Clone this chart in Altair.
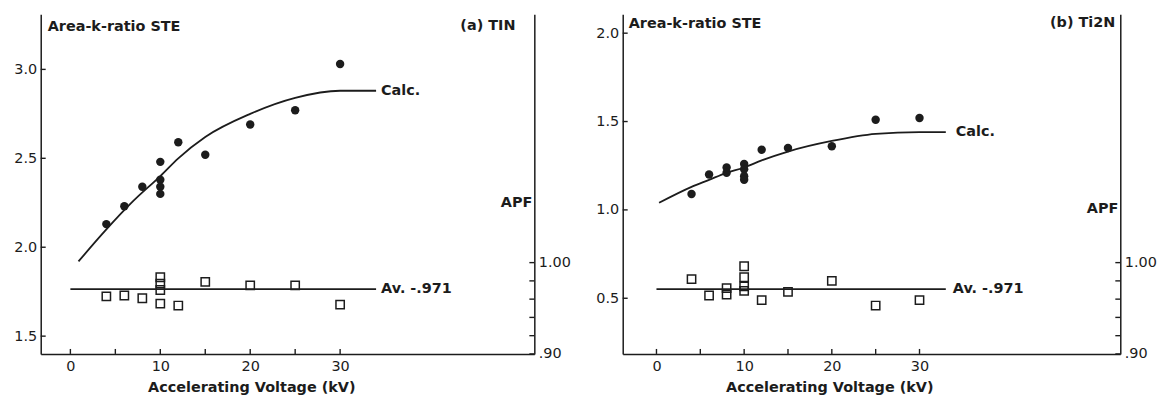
import altair as alt
import pandas as pd

INK = "#1c1c1c"
FONT = "DejaVu Sans"

# ---------------- (a) TiN ----------------
tin_kv = [4, 6, 8, 10, 10, 10, 10, 12, 15, 20, 25, 30]
tin_ratio = [2.13, 2.23, 2.34, 2.48, 2.38, 2.34, 2.30, 2.59, 2.52, 2.69, 2.77, 3.03]
tin_apf_kv = [4, 6, 8, 10, 10, 10, 10, 12, 15, 20, 25, 30]
tin_apf = [0.963, 0.964, 0.961, 0.984, 0.977, 0.970, 0.955, 0.953, 0.979, 0.975, 0.975, 0.954]
tin_calc_kv = [0.9, 4, 7, 10, 12, 15, 20, 25, 30, 34]
tin_calc = [1.92, 2.10, 2.26, 2.40, 2.50, 2.62, 2.75, 2.84, 2.88, 2.88]

# ---------------- (b) Ti2N ----------------
ti2n_kv = [4, 6, 8, 8, 10, 10, 10, 10, 12, 15, 20, 25, 30]
ti2n_ratio = [1.09, 1.20, 1.24, 1.21, 1.26, 1.23, 1.19, 1.17, 1.34, 1.35, 1.36, 1.51, 1.52]
ti2n_apf_kv = [4, 6, 8, 8, 10, 10, 10, 10, 12, 15, 20, 25, 30]
ti2n_apf = [0.982, 0.964, 0.972, 0.965, 0.996, 0.984, 0.974, 0.969, 0.959, 0.968, 0.980, 0.953, 0.959]
ti2n_calc_kv = [0.3, 4, 6, 8, 10, 12, 15, 20, 25, 30, 33]
ti2n_calc = [1.04, 1.13, 1.17, 1.21, 1.24, 1.28, 1.33, 1.39, 1.43, 1.44, 1.44]

# average APF line
apf_average = 0.971

# axis ticks
x_tick_labels = [0, 10, 20, 30]
x_ticks = [0, 5, 10, 15, 20, 25, 30]
apf_ticks = [0.90, 0.92, 0.94, 0.96, 0.98, 1.00]
apf_tick_labels = [0.90, 1.00]
tin_y_ticks = [1.5, 2.0, 2.5, 3.0]
ti2n_y_ticks = [0.5, 1.0, 1.5, 2.0]

H = 342
TICK = 5


def panel(kv, ratio, apf_kv, apf, calc_kv, calc, calc_end, av_end,
          xdom, ydom, yticks, name, w, title_x, calc_dx, av_dx, name_dx,
          head_dx, head_y, apf_y, head_text):
    xs = alt.Scale(domain=xdom, nice=False, zero=False)
    ys = alt.Scale(domain=ydom, nice=False, zero=False)
    ps = alt.Scale(domain=[0.90, 1.272], nice=False, zero=False)

    # one axis definition per scale, shared by every layer on that scale
    x_axis = alt.Axis(values=x_tick_labels, ticks=False, grid=False,
                      labelPadding=6, title="Accelerating Voltage (kV)",
                      titleX=title_x, titleY=38, titleBaseline="alphabetic",
                      titleAlign="center")
    y_axis = alt.Axis(orient="left", values=yticks, format=".1f", ticks=False,
                      grid=False, labelPadding=4, title=None)
    p_axis = alt.Axis(orient="right", values=apf_tick_labels, ticks=False,
                      grid=False, labelPadding=4, title=None,
                      labelExpr="datum.value == 1 ? '1.00' : '.90'")

    def X(f):
        return alt.X(f, type="quantitative", scale=xs, axis=x_axis)

    def Y(f):
        return alt.Y(f, type="quantitative", scale=ys, axis=y_axis)

    def P(f):
        return alt.Y(f, type="quantitative", scale=ps, axis=p_axis)

    pts = pd.DataFrame({"kv": kv, "ratio": ratio})
    sq = pd.DataFrame({"kv": apf_kv, "apf": apf})
    cur = pd.DataFrame({"kv": calc_kv, "ratio": calc})

    points = alt.Chart(pts).mark_circle(size=72, color=INK, opacity=1).encode(
        x=X("kv"), y=Y("ratio"))
    curve = alt.Chart(cur).mark_line(color=INK, strokeWidth=1.8,
                                     interpolate="monotone").encode(
        x=X("kv"), y=Y("ratio"))
    calc_lbl = alt.Chart(pd.DataFrame({"kv": [calc_end[0]], "ratio": [calc_end[1]],
                                       "t": ["Calc."]})).mark_text(
        align="left", baseline="middle", dx=calc_dx, font=FONT,
        fontWeight="bold", fontSize=14.5, color=INK).encode(
        x=X("kv"), y=Y("ratio"), text="t:N")
    xtick = alt.Chart(pd.DataFrame({"kv": x_ticks})).mark_rule(
        color=INK, strokeWidth=1.4).encode(
        x=X("kv"), y=alt.value(H), y2=alt.value(H - TICK))
    ytick = alt.Chart(pd.DataFrame({"ratio": yticks})).mark_rule(
        color=INK, strokeWidth=1.4).encode(
        y=Y("ratio"), x=alt.value(0), x2=alt.value(TICK))
    head = alt.Chart(pd.DataFrame({"t": [head_text]})).mark_text(
        align="left", baseline="middle", font=FONT, fontWeight="bold",
        fontSize=14.5, color=INK).encode(
        text="t:N", x=alt.value(head_dx), y=alt.value(head_y))
    tag = alt.Chart(pd.DataFrame({"t": [name]})).mark_text(
        align="right", baseline="middle", font=FONT, fontWeight="bold",
        fontSize=14.5, color=INK).encode(
        text="t:N", x=alt.value(w - name_dx), y=alt.value(head_y - 1))

    left = alt.layer(points, curve, calc_lbl, xtick, ytick, head, tag)

    squares = alt.Chart(sq).mark_point(shape="square", filled=False, size=70,
                                       color=INK, strokeWidth=1.5,
                                       opacity=1).encode(
        x=X("kv"), y=P("apf"))
    avline = alt.Chart(pd.DataFrame({"kv": [0, av_end],
                                     "apf": [apf_average] * 2})).mark_line(
        color=INK, strokeWidth=1.8).encode(x=X("kv"), y=P("apf"))
    av_lbl = alt.Chart(pd.DataFrame({"kv": [av_end], "apf": [apf_average],
                                     "t": ["Av. -.971"]})).mark_text(
        align="left", baseline="middle", dx=av_dx, font=FONT,
        fontWeight="bold", fontSize=14.5, color=INK).encode(
        x=X("kv"), y=P("apf"), text="t:N")
    ptick = alt.Chart(pd.DataFrame({"apf": apf_ticks})).mark_rule(
        color=INK, strokeWidth=1.4).encode(
        y=P("apf"), x=alt.value(w), x2=alt.value(w - TICK))
    apf_lbl = alt.Chart(pd.DataFrame({"t": ["APF"]})).mark_text(
        align="right", baseline="middle", font=FONT, fontWeight="bold",
        fontSize=14.5, color=INK).encode(
        text="t:N", x=alt.value(w - 2), y=alt.value(apf_y))

    right = alt.layer(squares, avline, av_lbl, ptick, apf_lbl)

    return alt.layer(left, right).resolve_scale(y="independent").properties(
        width=w, height=H)


pa = panel(tin_kv, tin_ratio, tin_apf_kv, tin_apf, tin_calc_kv, tin_calc,
           (34, 2.88), 34, [-3.3, 51.6], [1.40, 3.31], tin_y_ticks,
           "(a) TIN", 497, 212, 5, 5, 19, 7, 13, 190, "Area-k-ratio  STE")
pb = panel(ti2n_kv, ti2n_ratio, ti2n_apf_kv, ti2n_apf, ti2n_calc_kv, ti2n_calc,
           (33, 1.44), 33, [-3.85, 52.9], [0.185, 2.107], ti2n_y_ticks,
           "(b) Ti2N", 501, 208, 10, 7, 5, 6, 10, 196, "Area-k-ratio STE")

chart = alt.hconcat(pa, pb, spacing=24).properties(
    padding={"left": 13, "top": 13, "right": 5, "bottom": 0},
    background="white",
).configure_view(stroke=None).configure_axis(
    labelFont=FONT, labelFontSize=14.5, labelColor=INK,
    titleFont=FONT, titleFontSize=14.5, titleFontWeight="bold", titleColor=INK,
    domainColor=INK, domainWidth=1.5,
)

chart.save("out.html", embed_options={"renderer": "svg", "actions": False})
